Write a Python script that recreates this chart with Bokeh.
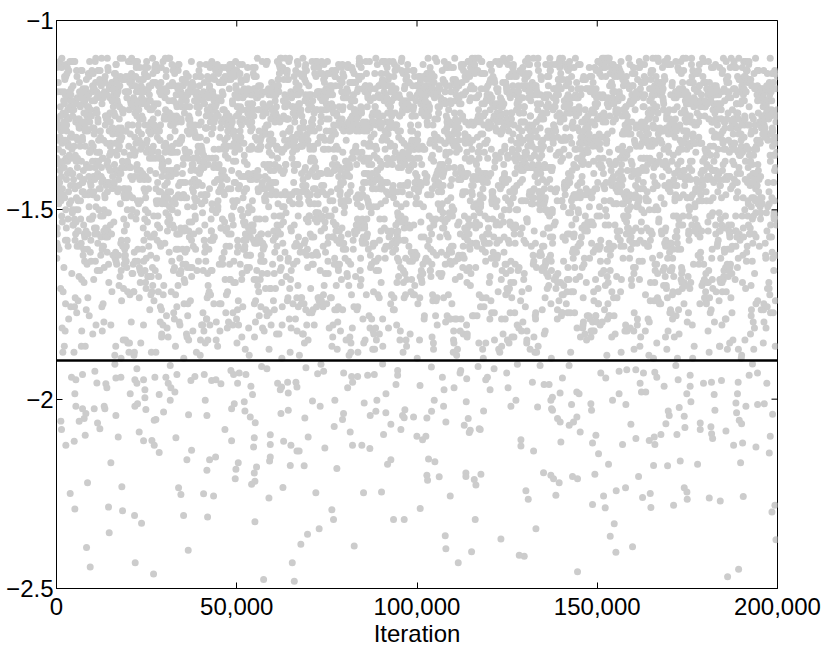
import math
from bokeh.plotting import figure
from bokeh.models import (Range1d, FixedTicker, NumeralTickFormatter, CustomJSTickFormatter,
                          Span, ColumnDataSource)
from bokeh.embed import file_html
from bokeh.resources import INLINE

# ---------------- data ----------------
X_RANGE = [0, 200000]
Y_RANGE = [-2.5, -1.0]
X_TICKS = [0, 50000, 100000, 150000, 200000]
Y_TICKS = [-2.5, -2.0, -1.5, -1.0]
X_LABEL = "Iteration"
THRESHOLD = -1.898

# Dense part of the trace (samples above about -1.9).
# The table is stored by rows; consecutive samples run down the columns
# (column 0 of every row first, then column 1, ...).
# Each code c is the sample value y = DENSE_TOP - c * DENSE_STEP.
DENSE_TOP = -1.1
DENSE_STEP = 0.008
DENSE_CODES = """
03 17 29 08 41 11 20 55 02 14 06 33 68 10 44 19 04 79 12 27 22 01 91 07 15 39 09 31 58 05 23 00 70 35 18 10 46 06 83 13 03 28 11 52 21 08 95 40 02 16
33 47 18 70 05 29 56 41 22 91 36 15 62 44 09 27 80 19 51 38 66 24 13 45 31 99 58 03 40 21 74 35 16 48 26 85 53 11 43 30 69 20 39 57 14 77 42 28 07 94
66 10 23 04 35 97 07 18 50 12 45 16 02 32 77 09 20 06 64 11 38 01 25 89 14 12 05 24 37 00 61 15 09 48 02 19 73 06 26 11 14 86 03 42 21 08 57 30 01 13
61 25 10 43 37 17 88 52 29 46 21 04 73 34 39 60 15 27 82 44 12 55 32 23 97 41 68 19 36 49 08 64 30 22 76 47 13 54 26 40 90 18 35 59 02 71 42 28 16 83
56 33 11 24 98 06 39 15 08 63 29 03 20 55 12 80 07 44 17 10 34 01 67 21 05 25 92 09 40 13 02 59 11 36 06 84 19 28 03 12 71 47 08 16 00 31 53 10 22 04
20 38 57 26 11 45 67 31 14 92 48 33 03 63 24 41 79 29 17 52 36 46 21 09 70 27 43 58 15 34 86 39 23 65 06 47 30 18 55 42 96 25 13 61 37 44 74 22 32 81
58 71 83 52 66 94 60 77 55 69 88 51 73 62 85 57 67 91 54 79 63 70 96 59 74 81 53 65 86 61 72 50 89 68 56 78 64 92 75 57 84 62 70 99 55 80 66 73 58 87
11 30 07 65 19 01 43 09 37 24 12 93 05 54 17 18 07 42 01 26 11 75 05 14 60 09 32 23 02 69 12 38 16 00 51 27 08 90 13 04 46 20 10 35 06 81 15 03 58 22
44 16 35 59 28 08 40 72 19 31 48 87 23 12 53 37 66 26 45 15 93 33 61 01 42 29 78 21 38 56 17 30 69 46 24 84 36 10 50 41 27 98 14 63 34 47 20 57 39 25
62 01 36 13 05 78 11 23 04 49 30 15 07 96 12 52 20 00 39 09 27 66 16 06 34 22 10 85 03 48 02 29 14 09 72 00 45 21 06 33 12 57 17 03 88 10 25 41 08 19
27 51 13 39 64 32 05 47 22 85 36 18 43 58 30 71 24 40 11 95 34 49 16 62 28 44 80 20 37 54 07 41 26 67 15 33 89 46 21 60 38 29 75 12 45 35 17 52 42 23
40 50 19 09 95 36 03 24 70 12 42 14 58 07 29 83 01 21 65 04 47 16 10 34 79 06 22 53 12 39 02 68 18 92 09 27 13 61 00 44 05 87 15 31 08 74 20 03 56 11
42 19 68 36 02 25 53 44 14 81 31 48 22 39 60 09 27 91 45 17 34 73 40 23 56 30 12 47 65 21 38 86 26 43 16 59 33 06 41 77 28 50 24 37 99 15 46 62 32 20
08 38 21 00 67 14 05 33 84 11 51 19 02 43 73 09 24 06 28 59 13 03 89 16 10 41 64 22 08 35 80 01 18 57 12 07 23 46 01 62 17 10 30 77 04 15 55 12 91 26
30 55 18 41 07 36 70 24 47 33 88 13 52 39 27 64 45 21 79 35 10 49 29 58 16 43 94 25 38 61 22 46 04 32 75 19 42 54 28 37 69 14 48 83 26 40 11 57 34 23
34 09 16 82 02 39 22 11 56 06 14 02 37 60 09 21 86 05 48 12 71 17 00 29 54 11 96 03 20 40 66 08 13 32 06 78 23 10 52 01 45 19 69 04 25 12 88 15 07 61
48 26 63 15 37 01 44 56 31 20 84 40 29 11 67 35 47 23 52 92 38 18 43 28 71 09 34 59 45 13 30 78 41 24 36 49 62 17 27 97 42 33 06 55 21 39 74 46 25 14
43 01 24 63 08 15 50 27 03 93 12 36 20 07 58 14 00 81 11 47 22 06 70 16 09 33 55 02 19 85 04 41 13 12 26 67 10 21 98 05 38 17 01 53 08 31 05 18 75 10
63 55 79 90 68 52 74 61 86 57 70 95 53 65 82 59 76 64 51 88 72 56 67 81 60 93 54 78 69 62 84 71 58 97 66 75 50 87 63 73 56 80 61 91 68 54 77 59 85 65
22 40 58 33 12 87 46 27 69 19 36 50 03 43 29 76 24 61 38 16 45 31 93 21 53 41 08 34 65 26 47 18 80 39 56 30 13 44 72 35 23 60 42 10 28 90 37 15 49 66
46 01 19 62 32 08 14 87 05 25 11 49 21 06 65 18 12 94 03 54 03 60 22 11 35 79 06 17 44 00 13 68 28 09 52 20 02 90 15 39 12 74 07 30 16 57 04 23 83 10
35 17 45 63 28 05 39 82 21 54 32 47 14 70 26 41 97 37 23 59 11 43 30 18 78 48 25 36 62 20 44 09 33 85 40 16 51 29 67 42 22 34 57 46 13 74 27 38 24 89
26 97 05 40 14 00 76 22 09 59 34 03 15 69 12 44 23 07 80 18 02 53 37 11 66 06 13 27 91 04 48 10 21 61 00 14 33 08 86 19 29 05 72 12 57 01 24 41 09 16
41 29 16 52 38 07 66 44 24 31 90 19 47 35 58 12 27 43 79 22 36 61 49 14 33 72 40 26 04 55 45 20 37 86 30 42 18 64 25 48 11 57 34 23 95 39 28 69 46 15
01 42 12 81 24 09 28 62 03 16 36 05 88 21 11 45 73 14 02 30 58 10 18 78 07 08 20 64 02 31 15 11 47 84 04 26 17 55 00 13 38 07 92 22 10 70 35 06 19 51
26 53 39 13 44 71 31 08 48 22 60 36 84 17 42 29 56 03 38 24 67 45 33 19 93 41 27 51 12 37 46 76 21 30 59 43 16 34 81 25 49 10 62 39 28 20 73 44 35 18
23 82 06 33 15 50 01 12 95 20 08 44 25 03 71 16 11 60 05 37 21 86 02 14 48 07 29 63 12 19 53 10 90 24 04 41 17 77 00 32 13 04 56 27 10 39 00 18 67 09
37 14 49 62 25 40 06 33 78 21 45 30 55 18 43 91 28 36 11 68 47 23 39 57 32 15 42 86 27 50 44 20 35 09 65 41 24 38 74 29 46 13 60 34 22 97 40 31 53 17
16 01 85 27 11 22 11 03 46 69 15 08 34 58 01 19 89 12 26 05 75 21 40 09 14 54 00 31 66 17 06 93 24 10 43 02 28 80 13 07 61 18 36 04 49 12 72 23 09 57
19 43 31 57 10 46 27 83 38 22 64 35 49 15 41 29 70 02 44 33 24 59 37 18 95 42 26 52 39 12 47 32 77 21 36 45 61 28 16 40 88 34 23 55 48 08 30 66 41 25
76 60 53 87 65 71 58 92 63 80 55 68 74 51 89 62 57 83 70 66 98 54 78 61 73 59 85 67 52 94 64 77 56 69 81 60 72 90 55 66 86 58 75 63 53 79 70 96 61 82
23 79 01 50 30 06 16 91 12 22 47 04 67 10 19 55 27 08 13 83 03 41 18 35 06 70 11 21 59 00 15 33 09 97 24 02 44 12 63 17 07 29 76 01 14 52 10 20 38 05
47 32 21 69 40 16 54 36 28 09 45 81 24 38 61 30 13 42 26 50 35 94 19 43 29 73 39 14 56 33 46 22 05 37 67 27 41 18 85 31 48 58 20 34 44 12 63 25 39 76
11 50 31 07 23 68 03 39 15 10 94 08 28 56 17 01 45 13 81 06 22 34 12 64 04 18 53 09 25 78 20 02 40 11 99 16 02 26 61 09 43 12 19 73 05 36 21 00 87 14
24 58 36 11 43 30 72 48 19 37 62 26 41 89 15 33 45 53 21 06 39 28 66 44 17 35 80 42 25 31 59 47 13 38 70 23 46 03 34 52 40 27 96 18 43 29 64 36 20 49
02 21 44 12 75 16 06 35 58 10 23 90 04 19 63 10 33 04 17 55 08 24 70 01 42 13 12 86 06 29 20 60 03 15 37 09 92 22 00 48 11 66 18 05 31 84 14 07 52 27
39 20 64 45 27 13 51 34 82 41 23 08 48 30 67 36 16 44 57 25 92 38 22 42 29 74 11 46 33 55 19 40 87 26 37 14 61 43 31 24 49 04 35 69 28 47 21 58 32 41
03 54 41 08 20 77 30 10 16 01 67 13 06 49 25 57 12 88 19 04 36 22 09 83 02 17 65 11 28 51 07 21 47 12 02 81 26 15 09 62 38 00 18 71 05 32 23 11 96 14
52 34 17 46 29 77 40 12 36 60 23 43 31 98 18 48 26 65 38 09 44 55 21 33 41 71 27 15 39 47 84 24 35 02 50 42 30 63 19 45 37 22 79 28 40 14 56 32 46 25
00 26 53 06 16 98 10 35 21 72 02 40 12 18 62 07 31 13 80 04 24 56 09 46 15 29 01 68 11 20 93 06 37 17 50 03 12 27 85 08 22 43 00 74 14 10 34 59 05 19
28 46 60 22 37 14 43 88 31 54 19 40 26 69 35 07 48 25 42 57 16 33 79 44 29 12 38 62 21 45 36 94 27 41 51 18 34 73 47 24 03 39 66 30 43 13 86 32 58 20
89 04 42 19 09 64 24 01 58 11 12 23 04 39 67 09 16 28 01 55 20 11 91 06 33 14 79 03 44 21 08 61 18 00 36 13 10 85 05 25 47 15 02 70 22 12 52 07 30 17
54 84 67 59 72 97 62 78 51 69 86 56 74 65 90 58 81 63 52 75 68 93 60 79 55 71 88 64 57 82 66 50 73 95 61 77 59 85 70 53 67 99 62 76 56 83 69 60 89 74
43 15 30 56 24 39 72 47 10 35 27 81 41 22 62 36 18 45 53 29 97 38 13 44 31 68 26 40 05 49 34 76 21 37 59 42 28 16 65 33 46 23 90 39 11 52 30 25 71 44
27 06 19 57 00 32 22 12 63 08 86 14 01 40 24 11 29 69 05 18 94 09 53 13 37 02 20 81 07 48 16 12 60 04 26 73 21 10 35 90 01 17 43 08 55 03 45 15 10 76
31 62 40 19 48 26 09 37 75 43 23 56 34 17 46 91 28 39 14 60 42 33 21 83 45 30 12 51 38 25 68 44 16 35 27 58 41 04 47 22 73 36 29 55 18 40 86 32 24 48
97 13 28 51 06 18 12 75 04 36 45 21 09 59 16 02 68 27 11 83 20 09 34 02 62 14 11 49 88 05 23 00 71 30 17 07 56 12 41 19 03 80 25 10 15 66 01 38 22 08
18 36 53 42 27 67 33 11 45 24 79 38 30 57 47 20 41 93 26 35 14 61 43 29 08 49 37 22 70 40 32 54 16 44 28 84 39 13 63 46 25 34 02 52 41 21 77 30 38 59
77 33 04 20 61 09 14 29 02 90 17 42 10 65 23 05 35 54 12 19 78 01 40 22 08 06 16 52 31 10 01 84 21 44 13 08 69 26 03 18 95 11 37 00 58 24 07 15 47 12
45 27 14 58 38 31 83 20 42 35 06 66 47 24 39 52 29 17 44 96 33 41 23 60 36 13 48 28 74 40 19 55 34 46 10 69 26 43 37 88 22 50 31 45 15 63 39 25 42 78
23 57 11 28 99 01 17 46 09 24 71 03 19 12 53 30 06 15 82 43 08 21 36 04 67 18 10 25 92 01 55 13 07 48 22 12 32 87 02 16 60 09 20 39 05 73 11 27 00 14
34 50 23 41 70 16 37 45 28 62 12 39 86 30 43 21 55 47 26 36 03 78 42 18 33 59 44 27 91 38 15 48 31 65 22 40 35 52 08 46 29 74 41 24 57 37 20 99 43 32
14 80 34 12 23 06 59 19 02 44 93 11 26 15 76 03 37 09 62 22 13 05 48 31 12 86 18 07 56 01 24 70 10 33 16 04 89 20 40 08 10 41 17 04 65 21 08 29 51 00
21 47 09 35 60 28 14 42 71 33 18 53 04 39 25 66 44 12 30 87 19 46 57 23 36 10 41 62 27 15 49 74 32 20 55 38 07 29 92 16 43 68 24 37 11 51 40 22 81 34
69 57 91 64 80 53 72 61 87 58 75 66 94 55 83 70 62 52 78 68 89 59 74 63 56 85 71 97 60 79 54 67 82 65 73 51 88 62 77 58 92 70 64 81 56 76 68 98 59 84
11 20 45 00 36 02 25 13 58 09 35 68 16 11 47 00 21 84 07 30 14 53 05 12 91 19 38 03 27 63 10 18 01 50 24 08 79 15 42 06 33 12 22 74 04 17 96 09 29 55
36 13 52 44 26 03 65 31 20 40 78 17 47 29 11 58 35 23 42 69 08 33 22 55 45 14 30 93 38 19 61 27 05 48 16 73 34 41 24 54 12 28 84 37 21 46 63 10 39 25
95 22 05 34 17 11 78 00 28 49 13 07 64 21 02 37 19 52 12 82 04 24 43 10 16 30 09 90 01 59 18 06 61 23 10 32 87 01 15 44 08 20 70 12 26 03 56 14 40 09
15 42 29 59 07 36 21 48 66 24 33 12 83 40 18 55 27 45 02 70 31 16 43 61 22 38 10 50 26 96 47 20 35 64 13 41 28 76 09 32 57 23 44 17 68 37 06 52 30 19
06 72 39 03 24 51 09 17 88 33 07 21 60 12 45 04 19 29 75 02 14 58 08 22 36 10 16 94 01 25 66 05 47 12 23 18 06 81 13 31 54 00 20 42 09 15 69 03 27 11
46 23 10 57 34 19 72 28 41 14 63 37 05 50 22 45 86 30 17 39 60 11 27 48 24 67 36 08 53 43 20 79 32 15 44 58 26 01 40 90 21 35 62 12 47 29 18 74 38 25
07 20 73 04 36 15 97 10 27 46 18 08 62 23 01 00 17 48 08 22 63 12 35 03 77 14 10 29 55 05 21 92 09 38 16 01 68 26 11 19 50 06 83 24 02 41 13 31 12 59
27 08 44 19 62 35 23 51 12 40 77 30 16 47 25 69 04 38 56 21 33 13 43 88 29 10 59 36 22 46 65 18 31 06 54 41 24 81 14 37 28 49 61 20 09 34 72 26 42 17
90 11 23 51 00 37 17 06 71 25 10 44 13 03 85 20 08 58 30 16 12 47 01 22 64 09 35 18 05 99 24 11 53 28 02 15 07 33 21 56 02 80 12 40 19 09 27 65 04 14
12 39 25 68 18 47 31 04 56 22 43 29 80 15 36 52 10 45 27 61 20 38 07 74 33 16 49 24 58 41 11 30 94 19 44 26 66 35 02 50 23 42 70 14 28 37 55 21 09 46
60 23 10 36 17 01 77 29 11 52 09 20 43 12 01 74 16 34 06 57 22 11 86 03 28 15 49 00 62 19 10 31 93 07 24 13 55 04 39 21 12 68 02 18 81 26 08 46 14 05
81 62 56 74 93 67 59 85 70 53 78 64 88 57 71 99 61 76 54 68 82 63 95 58 73 66 50 86 69 60 77 55 90 65 72 84 57 63 79 52 67 94 61 75 59 87 70 56 80 64
50 29 14 41 07 63 33 20 46 26 88 17 38 55 11 31 44 23 71 36 05 48 19 59 27 40 13 67 34 22 42 03 53 30 76 18 45 25 62 09 37 16 84 28 43 21 57 12 35 24
06 27 40 09 76 15 30 11 20 63 02 45 18 05 35 88 12 24 50 07 17 29 01 66 13 10 43 22 06 82 19 09 54 32 14 03 91 12 48 21 26 08 70 00 16 37 11 59 04 23
33 16 58 24 43 10 69 37 21 47 03 54 28 17 40 82 30 12 64 45 23 35 08 51 19 41 27 73 14 38 60 25 06 44 32 97 20 49 15 56 36 11 42 26 66 18 39 01 48 29
02 47 24 10 53 14 00 89 27 06 21 39 11 60 16 04 79 33 13 09 57 22 01 44 19 12 72 07 28 15 96 03 36 20 10 51 17 05 85 25 08 42 23 11 64 12 31 08 18 66
19 53 36 09 45 24 75 30 14 41 60 27 02 38 22 49 67 33 11 44 18 85 26 57 35 07 42 20 63 31 15 46 23 70 12 39 52 28 04 47 16 79 34 21 43 25 58 10 37 24
56 13 01 32 68 22 08 41 16 12 78 06 27 19 58 03 90 21 10 37 14 49 09 24 67 05 14 38 10 61 20 02 29 83 12 17 07 52 35 00 23 71 09 15 45 11 94 26 04 18
40 22 67 13 31 48 05 57 26 37 19 73 42 10 29 61 35 16 45 90 21 33 08 52 24 39 64 14 47 28 01 56 36 18 43 77 23 30 11 50 41 27 69 15 38 20 59 06 44 32
22 04 34 18 57 07 20 46 12 97 16 03 30 73 10 25 01 59 24 42 17 01 26 54 09 21 36 12 75 05 15 43 00 62 19 10 31 88 06 23 13 50 08 40 28 02 69 14 11 84
24 61 08 37 46 17 29 54 13 42 70 32 21 06 49 38 25 84 15 41 58 28 11 36 65 19 44 23 03 52 33 74 26 40 12 47 20 62 35 09 43 18 78 30 14 55 39 22 48 27
13 95 00 29 65 11 23 39 07 16 53 20 05 81 12 25 44 01 17 61 30 09 14 72 04 22 36 10 55 18 02 92 13 27 47 06 21 67 11 15 33 00 86 24 12 58 03 19 40 08
05 34 49 21 63 27 16 44 38 11 57 30 24 92 42 14 35 68 20 47 08 39 53 26 17 45 71 31 13 40 60 22 02 36 86 28 43 19 55 10 33 25 66 46 15 37 23 50 12 41
60 73 88 55 66 79 52 92 63 70 57 84 68 61 96 54 75 65 81 59 72 89 56 67 78 62 53 86 71 64 97 58 76 69 83 55 74 60 91 66 51 80 63 87 57 77 68 93 62 70
03 90 18 31 07 69 24 00 41 14 11 57 26 06 84 19 02 37 15 48 08 23 63 12 30 17 04 98 21 10 55 33 09 46 74 22 10 35 05 60 16 01 77 13 28 09 43 20 12 52
38 12 56 28 43 20 80 34 07 47 25 62 16 39 31 04 52 22 45 73 29 14 41 60 35 18 48 09 33 67 24 44 11 58 26 37 93 19 42 30 06 54 21 46 75 32 13 40 27 51
34 04 17 88 11 39 23 00 68 26 01 19 50 11 27 07 82 14 38 03 22 65 12 32 16 00 56 24 09 94 18 43 05 29 71 13 10 36 20 02 61 08 25 15 47 12 79 06 21 53
17 44 31 09 65 40 23 52 35 14 48 78 26 03 42 30 59 20 37 11 46 69 24 33 55 15 39 08 61 28 43 84 22 36 12 49 27 71 18 45 02 53 32 25 41 10 63 34 21 47
28 41 11 18 93 03 58 14 09 33 70 21 07 26 16 49 12 83 01 23 55 10 30 19 04 67 35 08 42 14 13 06 45 20 10 64 31 02 17 89 08 24 52 12 37 15 00 76 22 05
53 26 13 42 36 70 22 09 45 31 60 18 39 87 27 14 48 33 05 56 24 41 66 19 35 11 51 29 44 79 16 38 23 62 07 46 30 20 43 57 12 34 25 72 40 17 28 01 49 37
62 27 46 09 24 74 03 18 33 12 50 22 08 80 15 37 05 68 11 20 57 26 01 13 43 19 07 96 30 10 16 61 02 48 12 23 85 06 34 14 21 09 72 39 00 17 55 11 28 04
29 41 18 58 06 37 24 64 45 12 33 20 50 39 76 27 15 43 61 08 35 22 47 93 30 16 42 55 10 38 25 68 44 13 31 21 57 36 04 49 26 81 40 19 34 62 23 11 46 28
12 15 70 08 24 47 04 18 99 29 11 56 22 10 35 16 09 30 67 02 20 51 12 42 78 05 14 25 00 58 19 11 36 91 07 23 45 13 03 63 27 10 17 84 06 39 21 01 53 32
44 10 35 23 67 30 15 49 57 26 02 40 20 73 37 12 46 29 52 17 83 41 24 34 06 60 38 21 45 14 31 55 27 43 09 66 19 36 48 25 90 32 13 58 42 22 71 04 39 28
86 65 58 77 62 94 70 55 81 67 60 89 73 53 76 64 98 59 71 83 57 68 62 90 75 52 79 66 85 61 73 56 96 69 80 63 54 87 72 59 78 65 92 57 74 61 84 67 51 95
04 21 38 14 55 09 33 00 73 18 12 26 92 06 20 44 15 03 59 31 11 86 02 24 41 17 08 66 27 13 52 05 19 35 10 77 22 00 48 34 07 23 12 49 01 16 62 29 10 80
20 37 61 14 46 28 08 53 33 41 23 77 11 39 25 45 62 18 30 05 48 35 21 69 43 16 56 27 40 12 86 34 24 47 01 59 31 19 42 73 26 09 38 52 15 44 29 64 22 36
12 44 20 09 69 10 02 37 18 57 06 24 71 13 43 00 29 88 11 16 53 21 05 32 64 09 14 40 01 27 95 12 19 50 07 35 23 03 79 15 46 11 22 60 08 30 17 04 83 26
32 55 21 43 13 71 38 26 46 04 59 29 17 40 88 35 23 48 10 63 31 19 44 54 27 07 37 66 22 41 14 50 33 79 18 45 28 02 57 39 24 12 47 36 68 20 42 30 11 53
29 63 04 39 11 25 97 20 07 57 17 33 02 70 12 16 48 24 05 13 82 38 09 52 19 28 01 65 10 22 42 06 14 90 31 03 55 12 18 75 00 27 46 08 15 60 34 04 11 21
48 18 39 25 60 11 43 31 74 22 36 06 52 27 45 15 64 34 20 41 97 29 13 49 38 56 24 09 42 33 70 17 28 46 03 58 35 21 44 12 37 81 26 50 16 40 30 62 23 10
11 74 04 23 50 13 02 44 30 16 81 07 20 61 12 35 18 05 89 24 10 43 27 01 66 03 14 54 22 09 40 28 12 68 00 17 85 33 06 21 47 10 59 15 01 26 93 08 19 37
11 40 27 65 34 19 47 22 56 38 14 43 82 30 08 51 25 36 16 61 45 21 33 04 48 70 28 13 39 53 24 42 10 67 31 18 44 26 59 35 07 46 20 76 37 15 29 41 23 55
01 58 34 10 77 15 04 22 64 09 30 87 13 00 41 20 11 53 27 06 18 96 03 36 14 70 08 23 49 12 16 32 62 02 21 84 10 38 17 05 56 24 11 29 73 12 25 07 46 19
37 23 50 16 44 29 66 09 41 34 21 58 46 13 32 72 26 39 05 47 19 62 35 27 43 11 54 30 85 22 40 15 48 36 01 69 25 42 18 57 33 12 45 28 79 38 20 52 14 31
16 67 12 31 94 07 24 39 13 02 59 21 11 75 28 04 17 43 09 51 06 18 41 00 29 63 11 15 52 23 08 88 36 12 20 45 03 70 14 09 27 57 01 19 33 80 10 22 48 05
26 59 43 12 35 20 48 77 31 06 41 24 63 37 17 45 29 53 10 39 22 90 33 15 46 27 68 40 03 56 21 36 44 13 74 30 49 18 38 61 25 08 42 34 19 51 28 47 11 65
14 45 31 10 22 63 04 38 16 98 07 20 54 12 28 13 79 01 47 23 06 61 18 33 09 72 15 40 03 21 91 11 26 50 05 17 66 00 30 12 44 24 85 08 14 57 02 36 10 19
42 14 31 54 22 38 03 47 68 26 35 19 60 43 12 29 81 36 24 49 07 41 57 18 33 45 28 72 10 39 21 50 46 16 34 64 27 02 43 37 23 58 13 40 30 95 20 48 25 17
82 24 12 42 01 14 60 31 08 93 20 10 39 17 68 05 26 51 12 22 02 77 15 44 09 33 87 18 04 58 23 11 29 71 07 00 21 47 13 09 62 28 11 74 16 03 35 55 19 06
12 95 07 18 43 10 26 67 05 37 15 04 28 59 11 20 38 06 79 13 00 49 25 17 65 10 32 90 02 22 54 14 08 41 27 12 86 19 03 61 35 09 24 46 16 73 01 30 21 52
"""

# Sparse samples below the threshold line:
# iteration (in thousands) and value.
TAIL_X_K = [
    5.37, 7.22, 8.14, 10.46, 13.23, 13.42, 7.68, 6.29, 1.21, 1.39, 11.38, 12.03, 16.47, 7.96, 4.91, 2.59, 17.12,
    21.74, 22.48, 24.79, 29.70, 31.55, 27.57, 27.11, 22.94, 24.15, 26.46, 27.11, 28.49, 33.12, 36.63, 41.72, 41.26,
    37.47, 36.17, 42.46, 44.13, 41.72, 48.57, 49.31, 52.08, 52.27, 53.75, 55.13, 46.72, 48.57, 54.86, 54.67, 59.30,
    59.30, 59.30, 59.11, 62.26, 64.29, 63.00, 65.03, 66.70, 64.85, 50.42, 49.77, 49.58, 55.50, 54.86, 55.04, 54.12,
    62.81, 58.93, 55.04, 15.08, 8.61, 3.80, 18.13, 5.09, 14.43, 18.32, 21.65, 23.59, 14.62, 33.86, 34.51, 40.80,
    43.57, 35.25, 41.91, 8.33, 9.35, 21.83, 26.92, 36.54, 57.45, 65.40, 65.96,
    71.01, 73.14, 77.21, 85.35, 88.87, 68.89, 69.81, 67.31, 68.70, 74.44, 77.03, 79.34, 79.62, 81.47, 82.11, 84.70,
    86.92, 87.02, 88.59, 91.36, 90.72, 92.75, 95.53, 95.99, 96.64, 99.04, 96.45, 102.74, 104.04, 107.37, 108.01,
    104.78, 113.10, 114.21, 114.49, 114.77, 117.26, 117.54, 118.47, 113.66, 126.05, 127.44, 133.45, 99.97, 101.54,
    102.46, 77.77, 91.83, 92.75, 103.20, 104.96, 102.74, 102.93, 106.16, 113.56, 113.56, 115.88, 116.34, 117.73,
    128.83, 128.83, 132.34, 71.94, 85.17, 90.16, 109.22, 100.89, 76.38, 76.84, 93.49, 96.45, 116.15, 130.21, 130.86,
    132.99, 72.86, 69.63, 67.78, 82.58, 107.83, 108.01, 111.44, 115.14, 123.28, 128.36, 129.75,
    137.32, 137.59, 137.13, 142.87, 148.23, 148.42, 154.24, 157.94, 138.98, 139.72, 142.22, 143.42, 144.35, 145.27,
    139.91, 148.69, 149.62, 150.36, 153.13, 157.02, 159.33, 160.72, 164.42, 165.81, 165.99, 167.66, 169.04, 169.69,
    169.97, 172.74, 174.13, 172.10, 174.32, 175.98, 178.57, 178.57, 181.53, 181.72, 182.00, 182.64, 185.70, 187.82,
    188.65, 189.39, 190.04, 190.32, 188.47, 191.24, 194.02, 194.48, 196.33, 197.72, 197.99, 198.64, 135.10, 137.13,
    137.87, 139.44, 138.52, 143.14, 144.53, 149.34, 155.26, 157.85, 161.46, 162.57, 164.70, 164.88, 165.62, 169.51,
    173.02, 177.83, 174.13, 174.87, 174.96, 171.17, 181.07, 184.12, 190.50, 189.76, 148.69, 151.75, 152.21, 154.71,
    153.60, 155.17, 159.79, 144.53, 186.16, 189.21, 198.46, 199.29, 199.57,
    4.17, 5.37, 7.22, 10.64, 11.20, 13.69, 13.97, 16.19, 16.47, 17.86, 22.30, 21.74, 24.15, 24.52, 22.30, 27.29,
    30.34, 30.99, 31.73, 32.84, 33.40, 31.55, 37.28, 38.39, 40.98, 43.02, 44.22, 45.61, 48.38, 49.12, 50.69, 52.54,
    50.23, 53.93, 56.89, 58.37, 61.33, 62.44, 64.11, 66.42, 66.70, 69.19, 72.43, 74.10, 73.36, 79.65, 82.14, 81.87,
    80.76, 83.53, 86.31, 88.16, 94.63, 94.63, 94.17, 91.39, 90.47, 5.09, 20.45, 24.52, 28.49, 54.39, 64.29, 62.07,
    103.99, 107.04, 107.50, 110.28, 112.13, 111.94, 113.79, 116.94, 119.06, 119.53, 120.27, 121.38, 124.89, 125.26,
    127.85, 132.01, 135.25, 136.64, 134.14, 137.56, 139.69, 140.34, 142.19, 144.32, 144.96, 150.98, 152.36, 156.06,
    158.19, 160.69, 162.82, 161.89, 162.26, 163.46, 166.52, 165.96, 168.55, 171.79, 172.44, 175.77, 175.77, 174.84,
    179.47, 181.69, 184.46, 189.09, 188.90, 192.14, 194.45, 197.04, 193.06, 156.06, 100.84, 182.43,
]
TAIL_Y = [
    -2.019, -2.025, -2.038, -2.025, -2.019, -2.025, -2.051, -2.058, -2.058, -2.080, -2.063, -2.078, -2.043, -2.095,
    -2.111, -2.122, -2.100, -2.019, -2.012, -2.027, -2.034, -2.003, -2.054, -2.056, -2.087, -2.110, -2.109, -2.122,
    -2.141, -2.102, -2.041, -2.043, -2.003, -2.135, -2.160, -2.160, -2.153, -2.188, -2.025, -2.012, -2.007, -2.031,
    -2.047, -2.062, -2.080, -2.110, -2.102, -2.126, -2.094, -2.120, -2.153, -2.163, -2.038, -2.029, -2.111, -2.122,
    -2.137, -2.175, -2.168, -2.185, -2.210, -2.179, -2.195, -2.217, -2.225, -2.233, -2.261, -2.324, -2.168, -2.221,
    -2.249, -2.231, -2.290, -2.285, -2.295, -2.307, -2.328, -2.353, -2.234, -2.252, -2.250, -2.256, -2.307, -2.311,
    -2.392, -2.443, -2.432, -2.462, -2.399, -2.476, -2.432, -2.481,
    -2.005, -2.019, -2.003, -2.010, -2.003, -2.050, -2.100, -2.137, -2.176, -2.129, -2.072, -2.054, -2.038, -2.087,
    -2.122, -2.122, -2.130, -2.043, -2.032, -2.036, -2.093, -2.066, -2.080, -2.043, -2.028, -2.047, -2.049, -2.050,
    -2.032, -2.019, -2.060, -2.003, -2.069, -2.051, -2.088, -2.082, -2.078, -2.080, -2.031, -2.007, -2.019, -2.003,
    -2.021, -2.098, -2.107, -2.098, -2.183, -2.172, -2.160, -2.158, -2.165, -2.201, -2.214, -2.205, -2.195, -2.204,
    -2.212, -2.227, -2.198, -2.107, -2.124, -2.137, -2.247, -2.247, -2.245, -2.256, -2.289, -2.292, -2.318, -2.318,
    -2.318, -2.318, -2.242, -2.264, -2.342, -2.342, -2.357, -2.383, -2.388, -2.361, -2.395, -2.432, -2.403, -2.369,
    -2.412, -2.415,
    -2.025, -2.029, -2.003, -2.014, -2.012, -2.029, -2.003, -2.014, -2.051, -2.060, -2.069, -2.060, -2.047, -2.087,
    -2.113, -2.116, -2.095, -2.144, -2.172, -2.120, -2.066, -2.104, -2.109, -2.100, -2.120, -2.093, -2.065, -2.031,
    -2.043, -2.022, -2.045, -2.093, -2.075, -2.007, -2.063, -2.080, -2.073, -2.091, -2.104, -2.029, -2.084, -2.122,
    -2.036, -2.056, -2.065, -2.116, -2.010, -2.019, -2.126, -2.014, -2.012, -2.142, -2.098, -2.040, -2.194, -2.201,
    -2.210, -2.221, -2.254, -2.204, -2.210, -2.198, -2.242, -2.234, -2.204, -2.260, -2.249, -2.286, -2.175, -2.176,
    -2.163, -2.172, -2.234, -2.245, -2.264, -2.280, -2.261, -2.269, -2.257, -2.168, -2.278, -2.256, -2.287, -2.329,
    -2.362, -2.404, -2.390, -2.456, -2.469, -2.449, -2.298, -2.280, -2.371,
    -1.942, -1.949, -1.935, -1.926, -1.957, -1.959, -1.970, -1.908, -1.944, -1.942, -1.920, -1.949, -1.949, -1.975,
    -1.958, -1.942, -1.942, -1.958, -1.970, -1.981, -1.935, -1.911, -1.951, -1.940, -1.935, -1.951, -1.949, -1.959,
    -1.924, -1.935, -1.931, -1.935, -1.958, -1.966, -1.914, -1.920, -1.958, -1.968, -1.955, -1.955, -1.968, -1.917,
    -1.933, -1.926, -1.908, -1.931, -1.955, -1.940, -1.970, -1.940, -1.937, -1.935, -1.924, -1.937, -1.961, -1.986,
    -1.907, -1.986, -1.986, -1.996, -1.988, -1.988, -1.984, -1.975,
    -1.915, -1.942, -1.975, -1.970, -1.924, -1.931, -1.946, -1.914, -1.949, -1.942, -1.975, -1.920, -1.931, -1.970,
    -1.908, -1.955, -1.961, -1.961, -1.911, -1.995, -1.984, -1.944, -1.911, -1.981, -1.986, -1.931, -1.944, -1.926,
    -1.922, -1.922, -1.931, -1.958, -1.981, -1.981, -1.942, -1.929, -1.966, -1.911, -1.949, -1.937, -1.966, -1.986,
    -1.958, -1.955, -1.951, -1.955, -1.986, -1.937, -1.931, -1.958, -1.907, -1.986, -1.964, -1.988,
]

# ---------------- build sources ----------------
rows = [[int(s) for s in line.split()] for line in DENSE_CODES.strip().splitlines() if line.strip()]
ordered_codes = []
max_len = max(len(r) for r in rows)
for k in range(max_len):
    for r in rows:
        if k < len(r):
            ordered_codes.append(r[k])
n_dense = len(ordered_codes)
span_x = X_RANGE[1] - X_RANGE[0]
dense_x = [X_RANGE[0] + (i + 0.5) * span_x / n_dense for i in range(n_dense)]
dense_y = [DENSE_TOP - c * DENSE_STEP for c in ordered_codes]

n_tail = min(len(TAIL_X_K), len(TAIL_Y))
tail_x = [v * 1000 for v in TAIL_X_K[:n_tail]]
tail_y = TAIL_Y[:n_tail]

src = ColumnDataSource(data=dict(x=dense_x + tail_x, y=dense_y + tail_y))

# ---------------- figure ----------------
FONT = "Liberation Sans"
p = figure(width=830, height=654, output_backend="svg", toolbar_location=None,
           x_range=Range1d(*X_RANGE), y_range=Range1d(*Y_RANGE),
           min_border_left=56, min_border_right=53, min_border_top=20, min_border_bottom=66)
p.background_fill_color = "white"
p.border_fill_color = "white"
p.outline_line_color = "black"
p.outline_line_width = 1
p.grid.visible = False

p.scatter("x", "y", source=src, size=7, fill_color="#cccccc", line_color=None)
p.add_layout(Span(location=THRESHOLD, dimension="width", line_color="black", line_width=2.5))

# inward tick marks on the top and right edges (half of each mark is clipped by the frame)
p.scatter(x=X_TICKS, y=[Y_RANGE[1]] * len(X_TICKS), marker="dash", size=12,
          angle=math.pi / 2, line_color="black", line_width=1)
p.scatter(x=[X_RANGE[1]] * len(Y_TICKS), y=Y_TICKS, marker="dash", size=12,
          line_color="black", line_width=1)

for ax in (p.xaxis[0], p.yaxis[0]):
    ax.major_tick_in = 6
    ax.major_tick_out = 0
    ax.minor_tick_line_color = None
    ax.axis_line_color = "black"
    ax.major_tick_line_color = "black"
    ax.major_label_text_font = FONT
    ax.major_label_text_color = "black"
    ax.major_label_text_font_size = "24px"

p.xaxis.ticker = FixedTicker(ticks=X_TICKS)
p.xaxis.formatter = NumeralTickFormatter(format="0,0")
p.xaxis.major_label_standoff = 9
p.xaxis.axis_label = X_LABEL
p.xaxis.axis_label_text_font = FONT
p.xaxis.axis_label_text_font_size = "24px"
p.xaxis.axis_label_text_font_style = "normal"
p.xaxis.axis_label_text_color = "black"
p.xaxis.axis_label_standoff = 2

p.yaxis.ticker = FixedTicker(ticks=Y_TICKS)
p.yaxis.formatter = CustomJSTickFormatter(
    code='return (tick < 0 ? "\\u2212" : "") + Math.abs(tick);')
p.yaxis.major_label_standoff = 3

open("out.html", "w").write(file_html(p, INLINE))
